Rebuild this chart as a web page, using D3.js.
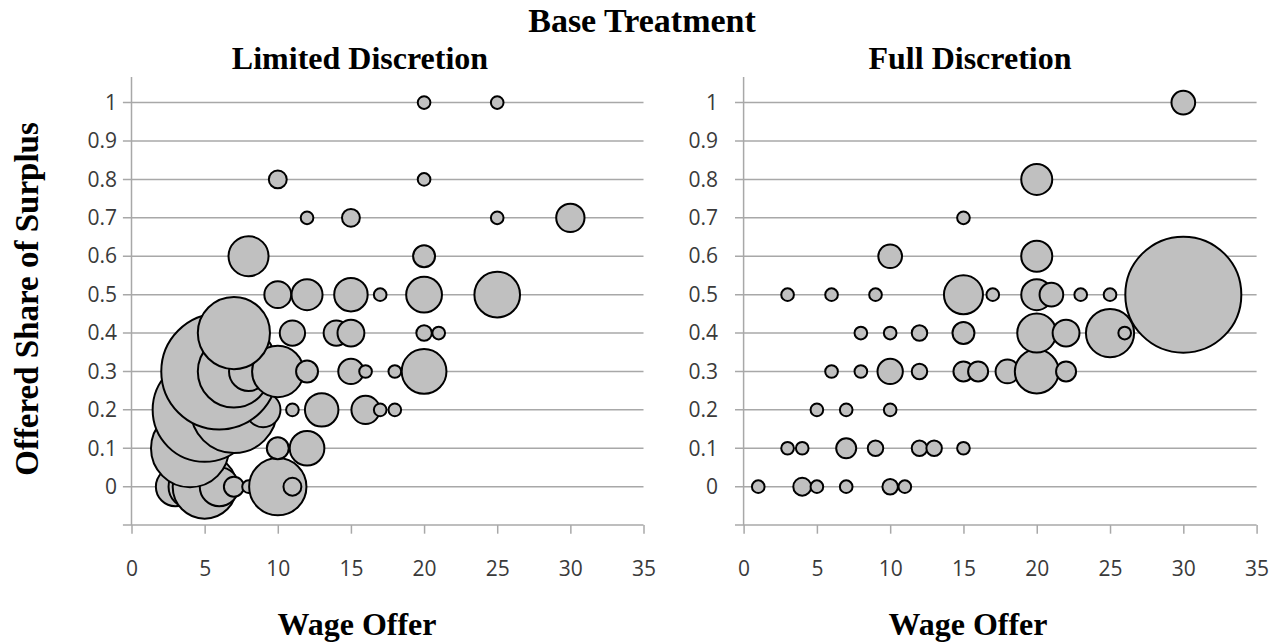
<!DOCTYPE html>
<html>
<head>
<meta charset="utf-8">
<script src="https://cdn.jsdelivr.net/npm/d3@7"></script>
<style>
  html, body { margin: 0; padding: 0; background: #fff; }
  svg { display: block; }
</style>
</head>
<body>
<svg id="chart" width="1284" height="642"></svg>
<script>
// ---- Limited Discretion: wage offer, offered share, bubble size ----
const limitedWage  = [3, 4, 4, 5, 5, 6, 6, 7, 7, 7, 7, 8, 8, 8, 9, 10, 10, 10, 10, 10, 11, 11, 11, 12, 12, 12, 12, 13, 14, 15, 15, 15, 15, 16, 16, 17, 17, 18, 18, 20, 20, 20, 20, 20, 20, 21, 25, 25, 25, 30];
const limitedShare = [0, 0, 0.1, 0, 0.2, 0, 0.3, 0, 0.2, 0.3, 0.4, 0, 0.3, 0.6, 0.2, 0, 0.1, 0.3, 0.5, 0.8, 0, 0.2, 0.4, 0.1, 0.3, 0.5, 0.7, 0.2, 0.4, 0.3, 0.4, 0.5, 0.7, 0.2, 0.3, 0.2, 0.5, 0.2, 0.3, 0.3, 0.4, 0.5, 0.6, 0.8, 1, 0.4, 0.5, 0.7, 1, 0.7];
const limitedSize  = [19, 23, 76, 51, 135, 19, 168, 5, 93, 65, 65, 2, 19, 20, 15, 41, 6, 33, 9, 4, 4, 2, 8, 15, 6, 12, 2, 14, 8, 8, 9, 14, 4, 10, 2, 2, 2, 2, 2, 25, 3, 16, 6, 2, 2, 2, 26, 2, 2, 10];

// ---- Full Discretion ----
const fullWage  = [1, 3, 3, 4, 4, 5, 5, 6, 6, 7, 7, 7, 8, 8, 9, 9, 10, 10, 10, 10, 10, 11, 12, 12, 12, 13, 15, 15, 15, 15, 15, 16, 17, 18, 20, 20, 20, 20, 20, 21, 22, 22, 23, 25, 25, 26, 30, 30];
const fullShare = [0, 0.1, 0.5, 0, 0.1, 0, 0.2, 0.3, 0.5, 0, 0.1, 0.2, 0.3, 0.4, 0.1, 0.5, 0, 0.2, 0.3, 0.4, 0.6, 0, 0.1, 0.3, 0.4, 0.1, 0.1, 0.3, 0.4, 0.5, 0.7, 0.3, 0.5, 0.3, 0.3, 0.4, 0.5, 0.6, 0.8, 0.5, 0.3, 0.4, 0.5, 0.4, 0.5, 0.4, 0.5, 1];
const fullSize  = [2, 2, 2, 4, 2, 2, 2, 2, 2, 2, 5, 2, 2, 2, 3, 2, 3, 2, 8, 2, 7, 2, 3, 3, 3, 3, 2, 5, 6, 19, 2, 5, 2, 7, 24, 19, 12, 12, 12, 7, 5, 9, 2, 29, 2, 2, 168, 7];

// ---- Axis ticks and labels ----
const xTicks = [0, 5, 10, 15, 20, 25, 30, 35];
const yTicks = [0, 0.1, 0.2, 0.3, 0.4, 0.5, 0.6, 0.7, 0.8, 0.9, 1];
const yTickLabels = ["0", "0.1", "0.2", "0.3", "0.4", "0.5", "0.6", "0.7", "0.8", "0.9", "1"];

const mainTitle = "Base Treatment";
const yTitle = "Offered Share of Surplus";
const xTitle = "Wage Offer";

const svg = d3.select("#chart");

const serif = "'Liberation Serif', 'Times New Roman', serif";
const sans = "'Open Sans', 'Liberation Sans', sans-serif";
const gridColor = "#a8a8a8";
const tickColor = "#3a3a3a";

// shared vertical scale (axis runs from -0.1 at the bottom)
const yScale = d3.scaleLinear().domain([-0.1, 1]).range([525.1, 102.6]);
const axisTop = 77;
const tickLen = 8.6;

// bubble area proportional to size
const rScale = d3.scaleSqrt().domain([0, 168]).range([0, 58]);

const panels = [
  { title: "Limited Discretion", titleX: 360, xTitleX: 357, wage: limitedWage, share: limitedShare, size: limitedSize, left: 131.5, right: 643.5, labelPad: 6 },
  { title: "Full Discretion", titleX: 970, xTitleX: 968, wage: fullWage, share: fullShare, size: fullSize, left: 743.6, right: 1256.6, labelPad: 17 }
];

panels.forEach(p => {
  const g = svg.append("g");
  const x = d3.scaleLinear().domain([0, 35]).range([p.left, p.right]);

  // horizontal gridlines, reaching over the left tick marks
  g.append("g").selectAll("line")
    .data(yTicks)
    .join("line")
    .attr("x1", p.left - tickLen)
    .attr("x2", p.right)
    .attr("y1", d => yScale(d))
    .attr("y2", d => yScale(d))
    .attr("stroke", gridColor)
    .attr("stroke-width", 1.5);

  // bottom axis line at -0.1
  g.append("line")
    .attr("x1", p.left - tickLen).attr("x2", p.right)
    .attr("y1", yScale(-0.1)).attr("y2", yScale(-0.1))
    .attr("stroke", gridColor).attr("stroke-width", 1.5);

  // vertical axis line
  g.append("line")
    .attr("x1", p.left).attr("x2", p.left)
    .attr("y1", axisTop).attr("y2", yScale(-0.1))
    .attr("stroke", gridColor).attr("stroke-width", 1.5);

  // y tick labels
  const yAxis = d3.axisLeft(yScale)
    .tickValues(yTicks)
    .tickFormat((d, i) => yTickLabels[i])
    .tickSize(tickLen)
    .tickPadding(p.labelPad);
  const ya = g.append("g").attr("transform", `translate(${p.left},0)`).call(yAxis);
  ya.select(".domain").remove();
  ya.selectAll(".tick line").remove();
  ya.selectAll("text")
    .attr("font-family", sans).attr("font-size", 21).attr("fill", tickColor);

  // x axis ticks and labels
  const xAxis = d3.axisBottom(x)
    .tickValues(xTicks)
    .tickFormat(d3.format("d"))
    .tickSize(tickLen)
    .tickPadding(27);
  const xa = g.append("g").attr("transform", `translate(0,${yScale(-0.1)})`).call(xAxis);
  xa.select(".domain").remove();
  xa.selectAll(".tick line").attr("stroke", gridColor).attr("stroke-width", 1.5);
  xa.selectAll("text")
    .attr("font-family", sans).attr("font-size", 21).attr("fill", tickColor);

  // bubbles: lower rows first, then left to right, so upper bubbles overlap lower ones
  const pts = p.wage.map((w, i) => ({ w, s: p.share[i], n: p.size[i] }))
    .sort((a, b) => d3.ascending(a.s, b.s) || d3.ascending(a.w, b.w));
  g.append("g").selectAll("circle")
    .data(pts)
    .join("circle")
    .attr("cx", d => x(d.w))
    .attr("cy", d => yScale(d.s))
    .attr("r", d => rScale(d.n))
    .attr("fill", "#c0c0c0")
    .attr("stroke", "#000")
    .attr("stroke-width", 2);

  // panel title
  svg.append("text")
    .attr("x", p.titleX).attr("y", 69)
    .attr("text-anchor", "middle")
    .attr("font-family", serif).attr("font-weight", "bold").attr("font-size", 32)
    .text(p.title);

  // x axis title
  svg.append("text")
    .attr("x", p.xTitleX).attr("y", 635)
    .attr("text-anchor", "middle")
    .attr("font-family", serif).attr("font-weight", "bold").attr("font-size", 32)
    .text(xTitle);
});

// overall title
svg.append("text")
  .attr("x", 642).attr("y", 32)
  .attr("text-anchor", "middle")
  .attr("font-family", serif).attr("font-weight", "bold").attr("font-size", 34)
  .text(mainTitle);

// y axis title
svg.append("text")
  .attr("transform", "translate(38,299) rotate(-90)")
  .attr("text-anchor", "middle")
  .attr("font-family", serif).attr("font-weight", "bold").attr("font-size", 33)
  .text(yTitle);
</script>
</body>
</html>
